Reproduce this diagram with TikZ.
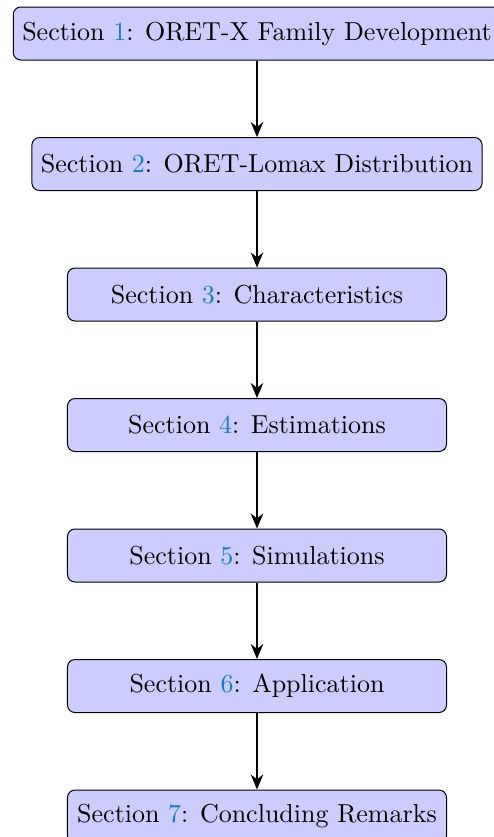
\documentclass[tikz,border=0pt]{standalone}
\usepackage{tikz}
\usetikzlibrary{positioning,arrows.meta}
\definecolor{linkblue}{RGB}{25,125,190}
\newcommand{\boxcolor}{blue!20}
\newcommand{\gap}{30.6pt}
\newcommand{\secref}[1]{Section \textcolor{linkblue}{#1}}

\begin{document}
\begin{tikzpicture}[
  secbox/.style={draw, fill=\boxcolor, rounded corners=3pt, minimum width=151.6pt,
    minimum height=21.2pt, inner xsep=3.6pt, font=\fontsize{10.4}{13}\selectfont},
  link/.style={thick, -{Stealth[length=6pt, width=5pt]}},
  node distance=\gap
]
\useasboundingbox (-102.8pt, 13.4pt) rectangle (94.8pt, -321.4pt);
\node[secbox] (1) at (0, 0) {\secref{1}: ORET-X Family Development};
\node[secbox, below=of 1] (2) {\secref{2}: ORET-Lomax Distribution};
\node[secbox, below=of 2] (3) {\secref{3}: Characteristics};
\node[secbox, below=of 3] (4) {\secref{4}: Estimations};
\node[secbox, below=of 4] (5) {\secref{5}: Simulations};
\node[secbox, below=of 5] (6) {\secref{6}: Application};
\node[secbox, below=of 6] (7) {\secref{7}: Concluding Remarks};
%arrows
\draw[link] (1) -- (2);
\draw[link] (2) -- (3);
\draw[link] (3) -- (4);
\draw[link] (4) -- (5);
\draw[link] (5) -- (6);
\draw[link] (6) -- (7);
\end{tikzpicture}
\end{document}
